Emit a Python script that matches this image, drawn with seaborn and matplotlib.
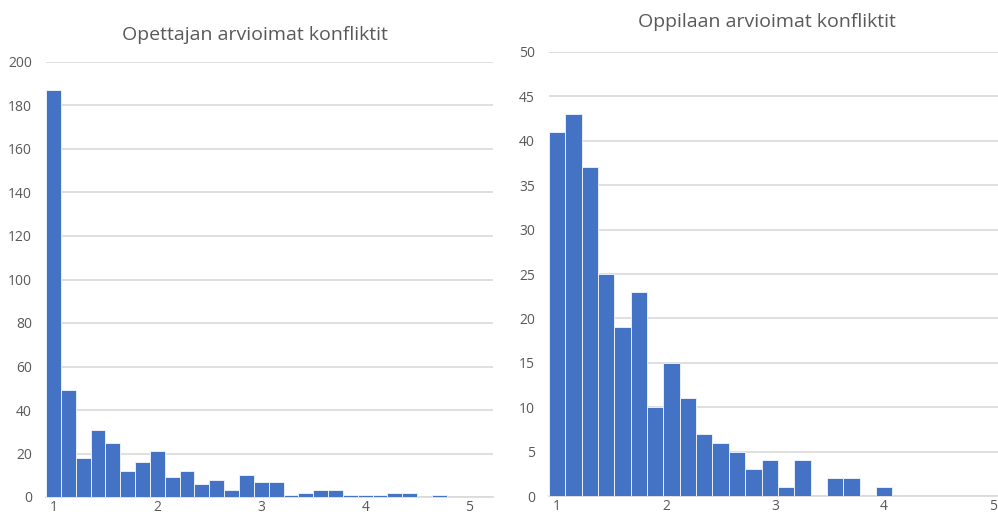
import numpy as np
import pandas as pd
import matplotlib
matplotlib.use("Agg")
import matplotlib.pyplot as plt
import seaborn as sns

# Data
teacher_counts = [187, 49, 18, 31, 25, 12, 16, 21, 9, 12, 6, 8, 3, 10, 7, 7,
                  1, 2, 3, 3, 1, 1, 1, 2, 2, 0, 1]
student_counts = [41, 43, 37, 25, 19, 23, 10, 15, 11, 7, 6, 5, 3, 4, 1, 4,
                  0, 2, 2, 0, 1]
teacher_title = "Opettajan arvioimat konfliktit"
student_title = "Oppilaan arvioimat konfliktit"
x_ticks = [1, 2, 3, 4, 5]
teacher_yticks = [0, 20, 40, 60, 80, 100, 120, 140, 160, 180, 200]
student_yticks = [0, 5, 10, 15, 20, 25, 30, 35, 40, 45, 50]
teacher_binw = 1 / 7
student_binw = 0.15

sns.set_theme(style="white")
plt.rcParams['font.family'] = ['Open Sans', 'DejaVu Sans']

BAR = "#4472C4"
GRID = "#D9D9D9"
TXT = "#595959"

W, H = 998, 514
fig = plt.figure(figsize=(W / 100, H / 100), dpi=100)


def px_axes(x0, y0, x1, y1):
    return fig.add_axes([x0 / W, 1 - y1 / H, (x1 - x0) / W, (y1 - y0) / H])


def draw(ax, counts, binw, yticks, title, xlim, title_xy):
    n = len(counts)
    centers = 1 + binw * np.arange(n)
    lo = 1 - binw / 2
    hi = lo + binw * n
    df = pd.DataFrame({"x": centers, "w": np.asarray(counts, dtype=float)})
    sns.histplot(data=df, x="x", weights="w", bins=n,
                 binrange=(lo, hi), ax=ax, color=BAR, alpha=1,
                 edgecolor="#E8EEF8", linewidth=0.7)
    for p in ax.patches:
        p.set_zorder(3)
    ax.set_xlim(*xlim)
    ax.set_ylim(yticks[0], yticks[-1])
    ax.set_yticks(yticks)
    ax.set_xticks(x_ticks)
    ax.set_xlabel("")
    ax.set_ylabel("")
    ax.grid(axis="y", color=GRID, linewidth=1.2)
    ax.set_axisbelow(True)
    for s in ["top", "right", "left"]:
        ax.spines[s].set_visible(False)
    ax.spines["bottom"].set_color(GRID)
    ax.spines["bottom"].set_linewidth(1.2)
    ax.spines["bottom"].set_zorder(1)
    ax.tick_params(axis="both", length=0, labelsize=10, labelcolor=TXT)
    ax.tick_params(axis="y", pad=10)
    ax.tick_params(axis="x", pad=2)
    fig.text(title_xy[0] / W, 1 - title_xy[1] / H, title, ha="center",
             va="center", fontsize=14, color=TXT)


ax1 = px_axes(46, 62, 493, 497)
draw(ax1, teacher_counts, teacher_binw, teacher_yticks, teacher_title,
     (0.928, 5.23), (255, 35))

ax2 = px_axes(549, 52, 1004, 496)
draw(ax2, student_counts, student_binw, student_yticks, student_title,
     (0.925, 5.1), (767, 22))

fig.savefig("out.png", dpi=100)
